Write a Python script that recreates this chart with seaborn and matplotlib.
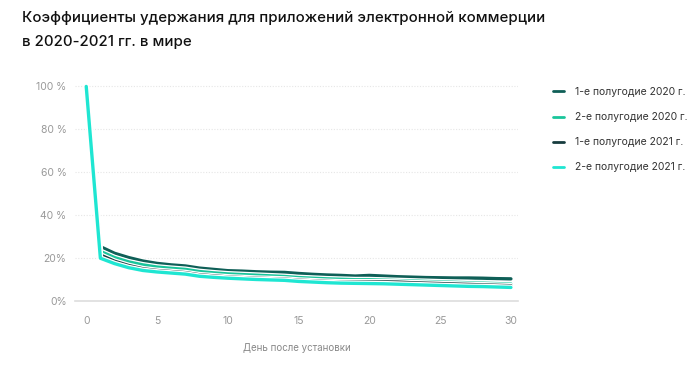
import numpy as np
import pandas as pd
import matplotlib.pyplot as plt
import matplotlib.patheffects as pe
import seaborn as sns

# days after install
days = list(range(31))

h1_2020 = [100, 25.4, 22.3, 20.3, 18.7, 17.6, 16.9, 16.4, 15.4, 14.8, 14.2, 14.0, 13.7,
           13.5, 13.4, 12.9, 12.5, 12.2, 12.0, 11.7, 12.0, 11.7, 11.4, 11.2, 11.0, 10.9,
           10.8, 10.8, 10.7, 10.5, 10.4]
h2_2020 = [100, 23.2, 20.3, 18.3, 16.9, 15.9, 15.3, 14.8, 13.8, 13.2, 12.7, 12.4, 12.1,
           11.8, 11.5, 11.0, 10.7, 10.4, 10.2, 10.0, 10.0, 9.8, 9.6, 9.4, 9.2, 9.0,
           8.8, 8.6, 8.4, 8.2, 8.0]
h1_2021 = [100, 21.5, 18.6, 16.6, 15.1, 14.3, 13.8, 13.3, 12.3, 11.8, 11.3, 11.0, 10.7,
           10.5, 10.3, 9.8, 9.5, 9.2, 9.0, 9.0, 9.0, 9.0, 8.9, 8.6, 8.4, 8.2,
           8.0, 7.8, 7.6, 7.4, 7.2]
h2_2021 = [100, 20.0, 17.5, 15.6, 14.3, 13.6, 13.1, 12.6, 11.6, 11.1, 10.7, 10.4, 10.1,
           9.9, 9.7, 9.2, 8.9, 8.6, 8.4, 8.3, 8.2, 8.1, 7.9, 7.7, 7.5, 7.3,
           7.1, 6.9, 6.8, 6.6, 6.4]

series_names = ["1-е полугодие 2020 г.", "2-е полугодие 2020 г.",
                "1-е полугодие 2021 г.", "2-е полугодие 2021 г."]
palette = ["#0f5f57", "#19c59b", "#173c3e", "#1fe6d2"]

y_ticks = [0, 20, 40, 60, 80, 100]
y_labels = ["0%", "20%", "40 %", "60 %", "80 %", "100 %"]
x_ticks = [0, 5, 10, 15, 20, 25, 30]

df = pd.DataFrame({
    "day": days * 4,
    "value": h1_2020 + h2_2020 + h1_2021 + h2_2021,
    "series": np.repeat(series_names, len(days)),
})

sns.set_style("white")
plt.rcParams["font.family"] = ["Inter", "DejaVu Sans"]

fig = plt.figure(figsize=(7, 3.7), dpi=100)
ax = fig.add_axes([0.107, 0.186, 0.633, 0.592])

sns.lineplot(data=df, x="day", y="value", hue="series", hue_order=series_names,
             palette=palette, linewidth=2.4, ax=ax, legend=False)
for ln in ax.lines:
    ln.set_path_effects([pe.Stroke(linewidth=4.2, foreground="white"), pe.Normal()])

ax.set_xlim(-0.8, 30.5)
ax.set_ylim(0, 102)
ax.set_yticks(y_ticks)
ax.set_yticklabels(y_labels)
ax.set_xticks(x_ticks)
ax.set_xticks(days, minor=True)
ax.grid(axis="y", color="#e6e6e6", linestyle=(0, (1, 1.5)), linewidth=0.8)
ax.set_axisbelow(True)
for s in ["top", "right", "left"]:
    ax.spines[s].set_visible(False)
ax.spines["bottom"].set_color("#dddddd")
ax.spines["bottom"].set_linewidth(1.2)
ax.tick_params(axis="y", length=0, labelsize=7.5, labelcolor="#999999", pad=6)
ax.tick_params(axis="x", which="both", length=4, color="#dddddd", labelsize=7.5,
               labelcolor="#999999", pad=7)
ax.set_xlabel("День после установки", fontsize=7, color="#888888", labelpad=12)
ax.set_ylabel("")

fig.text(0.031, 0.952, "Коэффициенты удержания для приложений электронной коммерции",
         fontsize=10.8, fontweight="medium", color="#111111", va="center")
fig.text(0.031, 0.886, "в 2020-2021 гг. в мире", fontsize=10.8, fontweight="medium",
         color="#111111", va="center")

# legend
handles = [plt.Line2D([], [], color=c, linewidth=2) for c in palette]
fig.legend(handles, series_names, loc="upper left", bbox_to_anchor=(0.776, 0.79),
           frameon=False, fontsize=7.5, handlelength=1.1, handletextpad=1.1,
           labelspacing=1.45, labelcolor="#333333")

fig.savefig("out.png", dpi=100)
